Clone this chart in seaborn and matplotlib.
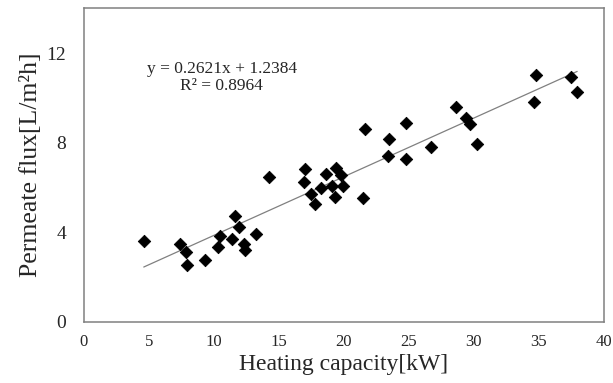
import matplotlib
matplotlib.use("Agg")
import matplotlib.pyplot as plt
import numpy as np
import pandas as pd
import seaborn as sns

# heating capacity [kW]
heating_capacity = [4.6, 7.4, 7.85, 7.9, 9.3, 10.3, 10.45, 11.4, 11.65, 11.9, 12.3, 12.4, 13.2, 14.2,
                    17.0, 16.95, 17.5, 17.8, 18.2, 18.65, 19.05, 19.35, 19.4, 19.8, 19.9,
                    21.45, 21.6, 23.4, 23.45, 24.8, 24.8, 26.7, 28.6, 29.4, 29.7, 30.25,
                    34.6, 34.75, 37.45, 37.95]
# permeate flux [L/m2h]
permeate_flux = [3.62, 3.47, 3.1, 2.52, 2.76, 3.36, 3.84, 3.68, 4.74, 4.22, 3.48, 3.2, 3.9, 6.46,
                 6.82, 6.24, 5.7, 5.28, 5.98, 6.58, 6.07, 5.57, 6.88, 6.56, 6.07,
                 5.52, 8.6, 7.39, 8.18, 8.9, 7.28, 7.8, 9.58, 9.1, 8.84, 7.92,
                 9.8, 11.02, 10.95, 10.26]

slope = 0.2621
intercept = 1.2384
r_squared = 0.8964


def main():
    sns.set_style("white")
    plt.rcParams['font.family'] = ['Liberation Serif', 'DejaVu Serif']

    df = pd.DataFrame({"x": heating_capacity, "y": permeate_flux})

    fig, ax = plt.subplots(figsize=(6.13, 3.83), dpi=100)
    fig.subplots_adjust(left=0.137, right=0.985, bottom=0.16, top=0.978)

    xs = np.array([min(heating_capacity), max(heating_capacity)])
    ax.plot(xs, slope * xs + intercept, color="#808080", lw=0.9, zorder=1)

    sns.scatterplot(data=df, x="x", y="y", marker="D", s=40, color="black",
                    edgecolor="black", linewidth=0.6, ax=ax, zorder=3)

    ax.set_xlim(0, 40)
    ax.set_ylim(0, 14)
    ax.set_xticks(np.arange(0, 41, 5))
    ax.set_yticks(np.arange(0, 14, 2), minor=True)
    ax.set_yticks([0, 4, 8, 12])
    ax.tick_params(axis="x", direction="in", length=4, color="#808080", labelsize=12, pad=9)
    ax.tick_params(axis="y", which="both", direction="in", length=5, color="#808080",
                   labelsize=14, pad=13)

    for sp in ax.spines.values():
        sp.set_color("#808080")
        sp.set_linewidth(1.1)

    ax.set_xlabel("Heating capacity[kW]", fontsize=17, labelpad=3)
    ax.set_ylabel("Permeate flux[L/m\u00b2h]", fontsize=18.5, labelpad=3)

    ax.text(10.6, 10.9, "y = %.4fx + %.4f\nR\u00b2 = %.4f" % (slope, intercept, r_squared),
            ha="center", va="center", fontsize=12.5, linespacing=1.1)

    fig.savefig("out.png", dpi=100)


if __name__ == "__main__":
    main()
